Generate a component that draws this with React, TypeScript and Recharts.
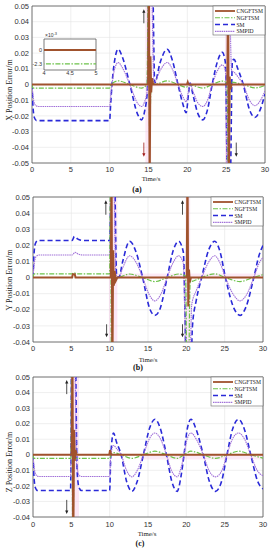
import React from 'react';
import { LineChart, Line, XAxis, YAxis, CartesianGrid, ReferenceArea, ReferenceLine } from 'recharts';

type P = [number, number];

const timeTicks = [0, 5, 10, 15, 20, 25, 30];
const yTicksA = [-0.05, -0.04, -0.03, -0.02, -0.01, 0, 0.01, 0.02, 0.03, 0.04, 0.05];
const yTicksBC = [-0.04, -0.03, -0.02, -0.01, 0, 0.01, 0.02, 0.03, 0.04, 0.05];
const insetXTicks = [4, 4.5, 5];
const insetYTicks = [-0.0023, 0];
const seriesNames = ['CNGFTSM', 'NGFTSM', 'SM', 'SMPID'];
const panelLabels = ['(a)', '(b)', '(c)'];
const yLabels = ['X Position Error/m', 'Y Position Error/m', 'Z Position Error/m'];

// ---------- Panel (a): X ----------
const aCNGFTSM: P[] = [[0,0],[14.95,0],[15.05,0.07],[15.15,-0.07],[15.25,0.018],[15.35,-0.005],[15.45,0.004],[15.6,0],[19.95,0],[20.05,0.0015],[20.15,0],[25.15,0],[25.25,0.07],[25.35,-0.07],[25.45,0.005],[25.55,-0.003],[25.7,0],[30,0]];
const aNGFTSM: P[] = [[0,0],[0.15,-0.0023],[10,-0.0023],[10.2,0],[11.1,0.0023],[12.6,0],[14.1,-0.0023],[14.8,0],[15.0,0.07],[15.15,-0.03],[15.35,0.003],[15.8,0],[17.4,0.0023],[18.8,0],[19.85,-0.0017],[20.3,0],[20.7,-0.0005],[22.0,-0.0023],[23.2,0],[24.5,0.0022],[25.1,0.001],[25.3,-0.07],[25.5,0.0015],[27.2,0],[28.7,-0.0022],[30,-0.0006]];
const aSM: P[] = [[0,0],[0.1,-0.012],[0.3,-0.021],[0.6,-0.023],[10,-0.023],[10.1,-0.015],[10.3,0],[10.7,0.017],[11.1,0.0225],[11.6,0.018],[12.6,0],[13.6,-0.019],[14.1,-0.0225],[14.5,-0.017],[14.85,-0.004],[15.1,0.07],[15.5,0.07],[15.8,0.001],[16.5,0.014],[17.4,0.0225],[18.1,0.015],[18.8,0],[19.4,-0.012],[19.85,-0.018],[20.15,-0.006],[20.35,0.001],[20.7,-0.006],[21.4,-0.019],[22.0,-0.0225],[22.6,-0.016],[23.2,0],[23.9,0.015],[24.5,0.0205],[24.9,0.014],[25.2,-0.07],[25.5,-0.07],[25.8,0.015],[26.0,0.016],[26.5,0.01],[27.2,0],[28.0,-0.016],[28.7,-0.021],[29.3,-0.017],[30,-0.006]];
const aSMPID: P[] = [[0,0],[0.15,-0.008],[0.4,-0.013],[0.8,-0.014],[10,-0.014],[10.1,-0.009],[10.3,0],[10.7,0.011],[11.1,0.014],[11.6,0.011],[12.6,0],[13.6,-0.012],[14.1,-0.014],[14.5,-0.011],[14.85,-0.003],[15.05,0.07],[15.35,0.07],[15.7,0.001],[16.5,0.009],[17.4,0.014],[18.1,0.0095],[18.8,0],[19.4,-0.0075],[19.85,-0.011],[20.15,-0.004],[20.35,0.0005],[20.7,-0.004],[21.4,-0.012],[22.0,-0.014],[22.6,-0.01],[23.2,0],[23.9,0.009],[24.5,0.0125],[24.9,0.009],[25.15,-0.07],[25.35,0.07],[25.7,0.009],[26.0,0.008],[26.5,0.005],[27.2,0],[28.0,-0.01],[28.7,-0.0135],[29.3,-0.011],[30,-0.004]];

// ---------- Panel (b): Y ----------
const bCNGFTSM: P[] = [[0,0],[5.1,0],[5.2,0.002],[5.45,0.002],[5.55,0],[10.15,0],[10.25,0.07],[10.35,-0.07],[10.45,0.017],[10.55,-0.005],[10.65,0.004],[10.8,-0.002],[11.0,0],[20.05,0],[20.15,0.07],[20.25,-0.018],[20.35,0.005],[20.45,-0.003],[20.6,0],[30,0]];
const bNGFTSM: P[] = [[0,0],[0.15,0.0023],[5.1,0.0023],[5.35,0.003],[5.7,0.0023],[10.0,0.0023],[10.1,0.07],[10.25,-0.07],[10.4,0.003],[11.0,0],[12.6,0.0022],[14.3,0],[15.9,-0.0025],[17.5,0],[19.0,0.0022],[19.9,0.001],[20.1,-0.07],[20.25,-0.07],[20.5,-0.003],[21.0,-0.002],[22.0,0],[23.7,0.0023],[25.1,0],[27.0,-0.0025],[28.7,0],[30,0.0018]];
const bSM: P[] = [[0,0],[0.1,0.012],[0.3,0.021],[0.6,0.023],[5.1,0.023],[5.4,0.0255],[5.8,0.024],[6.5,0.023],[10.0,0.023],[10.25,0.07],[10.6,0.07],[10.9,0.002],[11.2,0],[11.7,0.01],[12.6,0.0225],[13.5,0.015],[14.3,0],[15.2,-0.019],[15.9,-0.0235],[16.6,-0.019],[17.5,0],[18.3,0.017],[19.0,0.0225],[19.6,0.016],[20.1,-0.07],[20.5,-0.07],[20.8,-0.03],[21.3,-0.014],[22.0,0],[22.9,0.017],[23.7,0.0225],[24.4,0.016],[25.1,0],[26.2,-0.019],[27.0,-0.0235],[27.8,-0.018],[28.8,0],[29.5,0.014],[30,0.02]];
const bSMPID: P[] = [[0,0],[0.15,0.008],[0.4,0.013],[0.8,0.014],[5.1,0.014],[5.5,0.0157],[5.9,0.0145],[6.5,0.014],[10.0,0.014],[10.2,0.07],[10.5,0.07],[10.8,0.002],[11.2,0],[11.7,0.006],[12.6,0.0135],[13.5,0.009],[14.3,0],[15.2,-0.011],[15.9,-0.0145],[16.6,-0.011],[17.5,0],[18.3,0.0095],[19.0,0.0135],[19.6,0.009],[20.05,-0.07],[20.4,-0.07],[20.7,-0.017],[21.3,-0.008],[22.0,0],[22.9,0.0095],[23.7,0.0135],[24.4,0.009],[25.1,0],[26.2,-0.011],[27.0,-0.0145],[27.8,-0.011],[28.8,0],[29.5,0.009],[30,0.0125]];

// ---------- Panel (c): Z ----------
const cCNGFTSM: P[] = [[0,0],[5.05,0],[5.15,0.07],[5.25,-0.07],[5.35,0.016],[5.45,-0.004],[5.55,0.003],[5.7,0],[9.95,0],[10.05,0.003],[10.2,0],[30,0]];
const cNGFTSM: P[] = [[0,0],[0.15,-0.0023],[4.95,-0.0023],[5.05,0.07],[5.2,-0.07],[5.35,-0.002],[5.6,-0.0023],[10.0,-0.0023],[10.2,0],[10.5,0.0014],[11.5,0],[12.9,-0.0023],[14.4,0],[15.9,0.0023],[17.4,0],[18.8,-0.0023],[19.7,0],[20.6,0.0023],[22.2,0],[23.8,-0.0023],[25.3,0],[26.8,0.0023],[28.4,0],[30,-0.0022]];
const cSM: P[] = [[0,0],[0.1,-0.012],[0.3,-0.021],[0.6,-0.023],[4.9,-0.023],[5.05,0.07],[5.5,0.07],[5.75,-0.01],[6.0,-0.021],[6.3,-0.023],[10.0,-0.023],[10.15,0],[10.5,0.014],[10.9,0.008],[11.5,0],[12.2,-0.017],[12.9,-0.0235],[13.6,-0.017],[14.4,0],[15.2,0.017],[15.9,0.0228],[16.6,0.017],[17.4,0],[18.1,-0.017],[18.8,-0.0235],[19.3,-0.014],[19.7,0],[20.1,0.016],[20.6,0.0228],[21.3,0.016],[22.2,0],[23.0,-0.017],[23.8,-0.0235],[24.6,-0.017],[25.3,0],[26.0,0.016],[26.8,0.0228],[27.6,0.016],[28.4,0],[29.3,-0.017],[30,-0.022]];
const cSMPID: P[] = [[0,0],[0.15,-0.008],[0.4,-0.013],[0.8,-0.014],[4.9,-0.014],[5.0,0.07],[5.4,0.07],[5.7,-0.006],[6.0,-0.013],[6.3,-0.014],[10.0,-0.014],[10.15,0],[10.5,0.006],[10.9,0.004],[11.5,0],[12.2,-0.01],[12.9,-0.0142],[13.6,-0.01],[14.4,0],[15.2,0.0105],[15.9,0.014],[16.6,0.0105],[17.4,0],[18.1,-0.0105],[18.8,-0.0142],[19.3,-0.0085],[19.7,0],[20.1,0.01],[20.6,0.014],[21.3,0.01],[22.2,0],[23.0,-0.0105],[23.8,-0.0142],[24.6,-0.0105],[25.3,0],[26.0,0.01],[26.8,0.014],[27.6,0.01],[28.4,0],[29.3,-0.0105],[30,-0.0135]];

const toPts = (arr: P[]) => arr.map(([t, v]) => ({ t, v }));

const STY: Record<string, { stroke: string; w: number; dash?: string; type: any }> = {
  CNGFTSM: { stroke: '#a0522d', w: 2, type: 'linear' },
  NGFTSM: { stroke: '#6cc24a', w: 1.2, dash: '5 1.5 1.5 1.5', type: 'monotone' },
  SM: { stroke: '#2a2ad8', w: 1.6, dash: '5 3', type: 'monotone' },
  SMPID: { stroke: '#a070d8', w: 1.1, dash: '1.5 0.7', type: 'monotone' },
};

const fmtY = (v: number) => (Math.abs(v) < 1e-9 ? '0' : v.toFixed(2));
const fmtInsetY = (v: number) => (Math.abs(v) < 1e-9 ? '0' : (v * 1000).toFixed(1));

const SANS = 'Liberation Sans, Arial, sans-serif';
const SERIF = 'Liberation Serif, Times New Roman, serif';

const arrowShape = (color: string) => (props: any) => {
  const { x1, y1, x2, y2 } = props;
  const dir = y2 < y1 ? -1 : 1;
  const hw = 1.6;
  const hl = 3.5;
  return (
    <g>
      <line x1={x1} y1={y1} x2={x2} y2={y2 - dir * hl * 0.6} stroke={color} strokeWidth={0.8} />
      <polygon points={`${x2},${y2} ${x2 - hw},${y2 - dir * hl} ${x2 + hw},${y2 - dir * hl}`} fill={color} />
    </g>
  );
};

type Arrow = { t: number; from: number; to: number; color: string };

type PanelProps = {
  top: number;
  height: number;
  mTop: number;
  mRight: number;
  yW: number;
  xH: number;
  xTickM: number;
  yDomain: [number, number];
  yTicks: number[];
  series: [P[], P[], P[], P[]];
  vBands: [number, number][];
  hBand: [number, number, number, number];
  arrows: Arrow[];
};

function Panel(p: PanelProps) {
  const [cn, ng, sm, pid] = p.series;
  const order: [string, P[]][] = [['SM', sm], ['SMPID', pid], ['NGFTSM', ng], ['CNGFTSM', cn]];
  return (
    <div style={{ position: 'absolute', left: 0, top: p.top, width: 271, height: p.height }}>
      <LineChart width={271} height={p.height} margin={{ top: p.mTop, right: p.mRight, bottom: 0, left: 0 }}>
        <CartesianGrid stroke="#e4e4e4" strokeWidth={0.6} />
        {p.vBands.map((b, i) => (
          <ReferenceArea key={'vb' + i} x1={b[0]} x2={b[1]} y1={p.yDomain[0]} y2={p.yDomain[1]} fill="#f7c4e6" fillOpacity={0.4} stroke="none" />
        ))}
        <ReferenceArea x1={p.hBand[0]} x2={p.hBand[1]} y1={p.hBand[2]} y2={p.hBand[3]} fill="#f7c4e6" fillOpacity={0.35} stroke="none" />
        <XAxis
          type="number"
          dataKey="t"
          domain={[0, 30]}
          ticks={timeTicks}
          interval={0}
          allowDataOverflow
          tickLine={false}
          axisLine={false}
          tickSize={0}
          tickMargin={p.xTickM}
          height={p.xH}
          tick={{ fontSize: 7.5, fill: '#333', fontFamily: SANS }}
        />
        <YAxis
          type="number"
          domain={p.yDomain}
          ticks={p.yTicks}
          interval={0}
          allowDataOverflow
          width={p.yW}
          tickLine={false}
          axisLine={false}
          tickSize={0}
          tickMargin={3}
          tickFormatter={fmtY}
          tick={{ fontSize: 7.5, fill: '#333', fontFamily: SANS }}
        />
        {order.map(([name, arr]) => (
          <Line
            key={name}
            data={toPts(arr)}
            dataKey="v"
            type={STY[name].type}
            stroke={STY[name].stroke}
            strokeWidth={STY[name].w}
            strokeDasharray={STY[name].dash}
            dot={false}
            activeDot={false}
            isAnimationActive={false}
          />
        ))}
        <ReferenceArea x1={0} x2={30} y1={p.yDomain[0]} y2={p.yDomain[1]} fill="none" stroke="#555" strokeWidth={0.8} />
        {p.arrows.map((a, i) => (
          <ReferenceLine key={'ar' + i} segment={[{ x: a.t, y: a.from }, { x: a.t, y: a.to }]} shape={arrowShape(a.color)} />
        ))}
      </LineChart>
    </div>
  );
}

function Inset() {
  return (
    <>
      <div style={{ position: 'absolute', left: 44, top: 39, width: 52, height: 31, background: '#fff' }} />
      <div style={{ position: 'absolute', left: 26, top: 35, width: 74, height: 44 }}>
        <LineChart width={74} height={44} margin={{ top: 4, right: 4, bottom: 0, left: 0 }}>
          <XAxis
            type="number"
            dataKey="t"
            domain={[4, 5]}
            ticks={insetXTicks}
            interval={0}
            allowDataOverflow
            tickLine={false}
            axisLine={false}
            tickSize={0}
            tickMargin={1.5}
            height={9}
            tick={{ fontSize: 5.5, fill: '#333', fontFamily: SANS }}
          />
          <YAxis
            type="number"
            domain={[-0.0033, 0.0018]}
            ticks={insetYTicks}
            interval={0}
            allowDataOverflow
            width={18}
            tickLine={false}
            axisLine={false}
            tickSize={0}
            tickMargin={2}
            tickFormatter={fmtInsetY}
            tick={{ fontSize: 5.5, fill: '#333', fontFamily: SANS }}
          />
          <Line data={toPts(aSM)} dataKey="v" type="monotone" stroke={STY.SM.stroke} strokeWidth={1.6} strokeDasharray={STY.SM.dash} dot={false} isAnimationActive={false} />
          <Line data={toPts(aNGFTSM)} dataKey="v" type="monotone" stroke={STY.NGFTSM.stroke} strokeWidth={1.4} strokeDasharray={STY.NGFTSM.dash} dot={false} isAnimationActive={false} />
          <Line data={toPts(aCNGFTSM)} dataKey="v" type="linear" stroke={STY.CNGFTSM.stroke} strokeWidth={2} dot={false} isAnimationActive={false} />
          <ReferenceArea x1={4} x2={5} y1={-0.0033} y2={0.0018} fill="none" stroke="#444" strokeWidth={0.7} />
        </LineChart>
      </div>
      <div style={{ position: 'absolute', left: 45, top: 32, fontSize: 5, fontFamily: SANS, color: '#333', lineHeight: '6px', whiteSpace: 'nowrap' }}>
        ×10<sup style={{ fontSize: 4, verticalAlign: 'top', lineHeight: '4px' }}>-3</sup>
      </div>
    </>
  );
}

function LegendBox({ x, y }: { x: number; y: number }) {
  const rows = [5, 11.8, 18.6, 25.4];
  return (
    <g>
      <rect x={x} y={y} width={52} height={29} fill="#fff" stroke="#666" strokeWidth={0.6} />
      {seriesNames.map((n, i) => (
        <g key={n}>
          <line
            x1={x + 2}
            x2={x + 22}
            y1={y + rows[i]}
            y2={y + rows[i]}
            stroke={STY[n].stroke}
            strokeWidth={n === 'CNGFTSM' ? 1.8 : n === 'SM' ? 1.5 : 1.1}
            strokeDasharray={STY[n].dash}
          />
          <text x={x + 23.5} y={y + rows[i]} dominantBaseline="central" fontSize={5.6} fontFamily={SERIF} fill="#222">
            {n}
          </text>
        </g>
      ))}
    </g>
  );
}

export default function App() {
  return (
    <div style={{ position: 'absolute', left: 0, top: 0, width: 271, height: 550, background: '#fff', overflow: 'hidden' }}>
      <Panel
        top={0}
        height={185}
        mTop={6}
        mRight={6}
        yW={32}
        xH={22}
        xTickM={3.5}
        yDomain={[-0.05, 0.05]}
        yTicks={yTicksA}
        series={[aCNGFTSM, aNGFTSM, aSM, aSMPID]}
        vBands={[[14.6, 15.35], [24.85, 25.45]]}
        hBand={[10.2, 30, -0.0012, 0.0012]}
        arrows={[
          { t: 14.4, from: 0.039, to: 0.048, color: '#222' },
          { t: 14.4, from: -0.037, to: -0.046, color: '#a01818' },
          { t: 26.3, from: -0.037, to: -0.046, color: '#222' },
        ]}
      />
      <Inset />
      <Panel
        top={190}
        height={175}
        mTop={7}
        mRight={8}
        yW={33}
        xH={23}
        xTickM={3.5}
        yDomain={[-0.04, 0.05]}
        yTicks={yTicksBC}
        series={[bCNGFTSM, bNGFTSM, bSM, bSMPID]}
        vBands={[[9.9, 11.0], [19.9, 20.5]]}
        hBand={[11.0, 30, -0.0005, 0.0025]}
        arrows={[
          { t: 9.5, from: 0.039, to: 0.048, color: '#222' },
          { t: 9.6, from: -0.029, to: -0.037, color: '#222' },
          { t: 19.5, from: 0.039, to: 0.048, color: '#222' },
          { t: 19.5, from: -0.029, to: -0.037, color: '#222' },
        ]}
      />
      <Panel
        top={370}
        height={180}
        mTop={7}
        mRight={8}
        yW={33}
        xH={33}
        xTickM={4.5}
        yDomain={[-0.04, 0.05]}
        yTicks={yTicksBC}
        series={[cCNGFTSM, cNGFTSM, cSM, cSMPID]}
        vBands={[[5.0, 6.0]]}
        hBand={[14.0, 30, -0.003, 0]}
        arrows={[
          { t: 4.4, from: 0.039, to: 0.048, color: '#222' },
          { t: 4.4, from: -0.029, to: -0.038, color: '#222' },
        ]}
      />
      <svg width={271} height={550} style={{ position: 'absolute', left: 0, top: 0, pointerEvents: 'none' }}>
        <LegendBox x={213} y={6} />
        <LegendBox x={211} y={197} />
        <LegendBox x={211} y={377} />
        <text x={151} y={178} textAnchor="middle" dominantBaseline="central" fontSize={6.8} fontFamily={SERIF} fill="#222">Time/s</text>
        <text x={148} y={359} textAnchor="middle" dominantBaseline="central" fontSize={6.8} fontFamily={SERIF} fill="#222">Time/s</text>
        <text x={147} y={533.5} textAnchor="middle" dominantBaseline="central" fontSize={6.8} fontFamily={SERIF} fill="#222">Time/s</text>
        <text x={137} y={189.5} textAnchor="middle" dominantBaseline="central" fontSize={8} fontWeight="bold" fontFamily={SERIF} fill="#111">{panelLabels[0]}</text>
        <text x={138} y={367} textAnchor="middle" dominantBaseline="central" fontSize={8} fontWeight="bold" fontFamily={SERIF} fill="#111">{panelLabels[1]}</text>
        <text x={140} y={543} textAnchor="middle" dominantBaseline="central" fontSize={8} fontWeight="bold" fontFamily={SERIF} fill="#111">{panelLabels[2]}</text>
        <text transform="translate(9,90) rotate(-90)" textAnchor="middle" dominantBaseline="central" fontSize={8} fontFamily={SERIF} fill="#222">{yLabels[0]}</text>
        <text transform="translate(9,280) rotate(-90)" textAnchor="middle" dominantBaseline="central" fontSize={8} fontFamily={SERIF} fill="#222">{yLabels[1]}</text>
        <text transform="translate(9,462) rotate(-90)" textAnchor="middle" dominantBaseline="central" fontSize={8} fontFamily={SERIF} fill="#222">{yLabels[2]}</text>
      </svg>
    </div>
  );
}
